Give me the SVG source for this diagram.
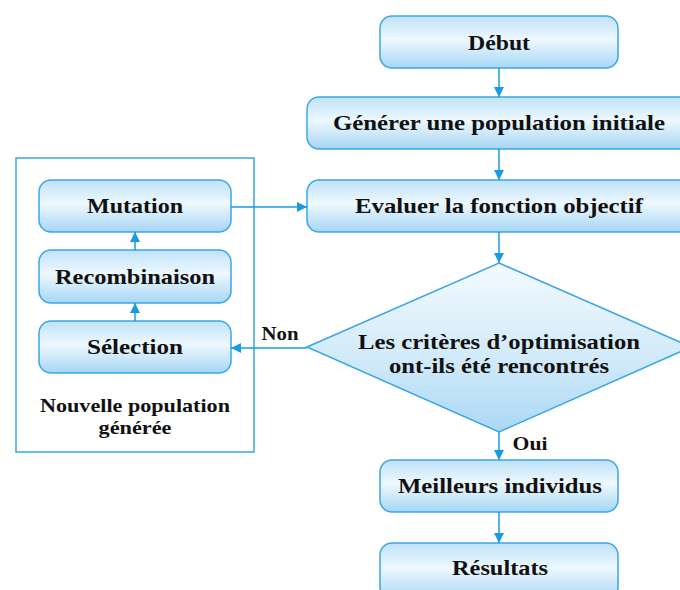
<svg xmlns="http://www.w3.org/2000/svg" width="680" height="590" viewBox="0 0 680 590">
<defs>
<linearGradient id="box" x1="0" y1="0" x2="0" y2="1">
<stop offset="0" stop-color="#bfe2f8"/>
<stop offset="0.45" stop-color="#eef8fe"/>
<stop offset="1" stop-color="#a6d6f4"/>
</linearGradient>
<linearGradient id="dia" x1="0" y1="0" x2="0" y2="1">
<stop offset="0" stop-color="#f4fafe"/>
<stop offset="0.6" stop-color="#cfe9f9"/>
<stop offset="1" stop-color="#a9d8f5"/>
</linearGradient>
<marker id="arr" viewBox="0 0 10 10" refX="10" refY="5" markerWidth="10" markerHeight="10" markerUnits="userSpaceOnUse" orient="auto">
<path d="M0,0 L10,5 L0,10 Z" fill="#1a9be0"/>
</marker>
</defs>
<style>
.b{fill:url(#box);stroke:#3aa6e6;stroke-width:1.5}
.t{font-family:"Liberation Serif","Times New Roman",serif;font-weight:bold;font-size:22px;fill:#111;text-anchor:middle}
.s{font-size:19px}
.c{stroke:#1a9be0;stroke-width:1.5;fill:none}
</style>
<rect width="680" height="590" fill="#fff"/>
<g id="panel">
<rect x="16" y="158" width="238" height="294" fill="none" stroke="#3aa6e6" stroke-width="1.5"/>
<text class="t s" x="135" y="412" textLength="190" lengthAdjust="spacingAndGlyphs">Nouvelle population</text>
<text class="t s" x="135" y="434" textLength="73" lengthAdjust="spacingAndGlyphs">générée</text>
</g>
<g id="debut"><rect class="b" x="380" y="16" width="238" height="52" rx="12"/><text class="t" x="499" y="50" textLength="62" lengthAdjust="spacingAndGlyphs">Début</text></g>
<g id="generer"><rect class="b" x="307" y="97" width="384" height="52" rx="12"/><text class="t" x="499" y="130" textLength="332" lengthAdjust="spacingAndGlyphs">Générer une population initiale</text></g>
<g id="evaluer"><rect class="b" x="307" y="180" width="384" height="52" rx="12"/><text class="t" x="499" y="213" textLength="288" lengthAdjust="spacingAndGlyphs">Evaluer la fonction objectif</text></g>
<g id="criteres"><polygon points="307,347 499,263 691,347 499,432" fill="url(#dia)" stroke="#3aa6e6" stroke-width="1.5"/>
<text class="t" x="499" y="349" textLength="282" lengthAdjust="spacingAndGlyphs">Les critères d’optimisation</text><text class="t" x="499" y="373" textLength="220" lengthAdjust="spacingAndGlyphs">ont-ils été rencontrés</text></g>
<g id="meilleurs"><rect class="b" x="380" y="460" width="238" height="52" rx="12"/><text class="t" x="500" y="493" textLength="204" lengthAdjust="spacingAndGlyphs">Meilleurs individus</text></g>
<g id="resultats"><rect class="b" x="380" y="543" width="238" height="56" rx="12"/><text class="t" x="500" y="575" textLength="96" lengthAdjust="spacingAndGlyphs">Résultats</text></g>
<g id="mutation"><rect class="b" x="39" y="180" width="192" height="52" rx="12"/><text class="t" x="135" y="213" textLength="96" lengthAdjust="spacingAndGlyphs">Mutation</text></g>
<g id="recombinaison"><rect class="b" x="39" y="250" width="192" height="53" rx="12"/><text class="t" x="135" y="284" textLength="160" lengthAdjust="spacingAndGlyphs">Recombinaison</text></g>
<g id="selection"><rect class="b" x="39" y="321" width="192" height="52" rx="12"/><text class="t" x="135" y="354" textLength="96" lengthAdjust="spacingAndGlyphs">Sélection</text></g>
<g id="connectors">
<line class="c" x1="499" y1="68" x2="499" y2="97" marker-end="url(#arr)"/>
<line class="c" x1="499" y1="149" x2="499" y2="180" marker-end="url(#arr)"/>
<line class="c" x1="499" y1="232" x2="499" y2="263" marker-end="url(#arr)"/>
<line class="c" x1="499" y1="432" x2="499" y2="460" marker-end="url(#arr)"/>
<line class="c" x1="499" y1="512" x2="499" y2="543" marker-end="url(#arr)"/>
<line class="c" x1="231" y1="207" x2="307" y2="207" marker-end="url(#arr)"/>
<line class="c" x1="307" y1="348" x2="231" y2="348" marker-end="url(#arr)"/>
<line class="c" x1="135" y1="321" x2="135" y2="303" marker-end="url(#arr)"/>
<line class="c" x1="135" y1="250" x2="135" y2="232" marker-end="url(#arr)"/>
<text class="t s" x="280" y="340" textLength="37" lengthAdjust="spacingAndGlyphs">Non</text>
<text class="t s" x="530" y="450" textLength="35" lengthAdjust="spacingAndGlyphs">Oui</text>
</g>
</svg>
